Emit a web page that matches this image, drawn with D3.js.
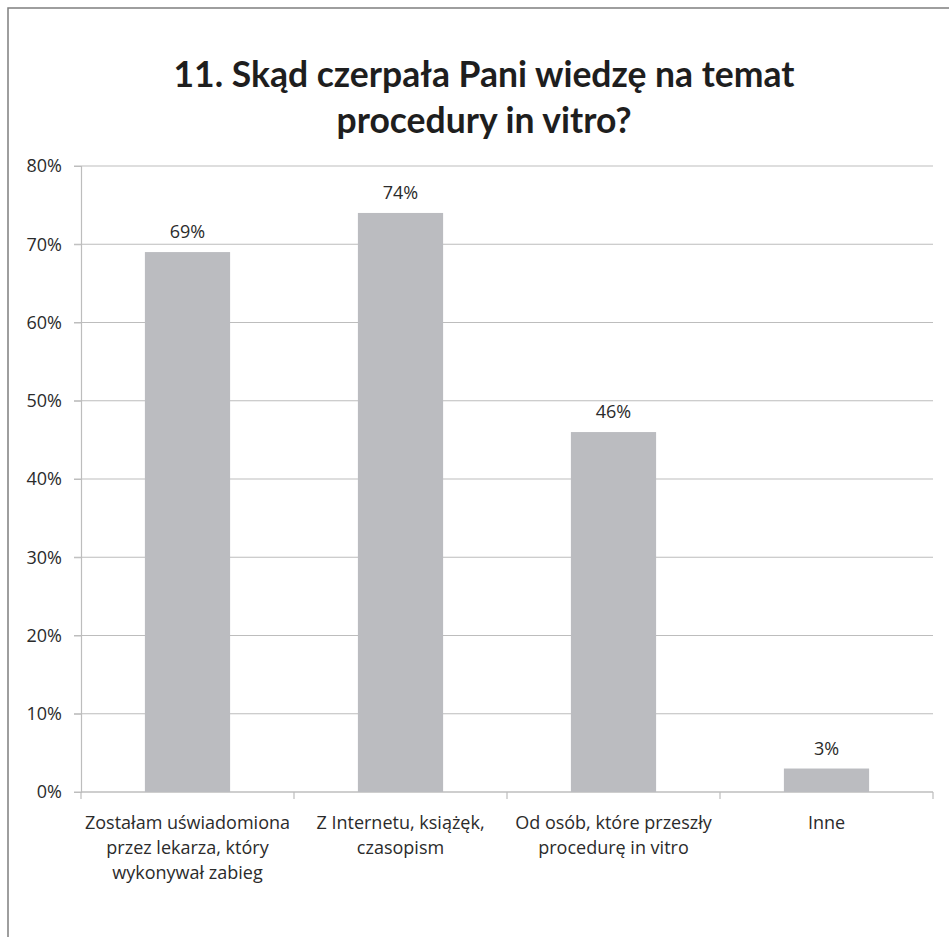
<!DOCTYPE html>
<html><head><meta charset="utf-8">
<script src="https://cdn.jsdelivr.net/npm/d3@7"></script>
<style>body{margin:0;background:#fff}svg{display:block}</style>
</head><body>
<script>
const categories = [
  ["Zostałam uświadomiona", "przez lekarza, który", "wykonywał zabieg"],
  ["Z Internetu,  książęk,", "czasopism"],
  ["Od osób, które przeszły", "procedurę in vitro"],
  ["Inne"]
];
const values = [0.69, 0.74, 0.46, 0.03];
const valueLabels = ["69%", "74%", "46%", "3%"];
const yTicks = [0, 0.1, 0.2, 0.3, 0.4, 0.5, 0.6, 0.7, 0.8];
const titleLines = ["11. Skąd czerpała Pani wiedzę na temat", "procedury in vitro?"];

const W = 949, H = 937;
const FONT = "Open Sans";
const FS = 18;
const svg = d3.select("body").append("svg").attr("width", W).attr("height", H);
svg.append("rect").attr("x", 8).attr("y", 8).attr("width", W + 10).attr("height", H + 10)
  .attr("fill", "#fff").attr("stroke", "#7f7f7f").attr("stroke-width", 1.5);

const pLeft = 81, pRight = 933, pTop = 166, pBottom = 792;
const x = d3.scaleBand().domain(d3.range(categories.length)).range([pLeft, pRight]).paddingInner(0.6).paddingOuter(0.3);
const y = d3.scaleLinear().domain([0, 0.8]).range([pBottom, pTop]);

// gridlines
svg.append("g").selectAll("line").data(yTicks).join("line")
  .attr("x1", pLeft - 7).attr("x2", pRight).attr("y1", d => y(d)).attr("y2", d => y(d))
  .attr("stroke", "#bdbdbd").attr("stroke-width", 1.2);

// y axis
const yAxis = svg.append("g").attr("transform", `translate(${pLeft},0)`)
  .call(d3.axisLeft(y).tickValues(yTicks).tickFormat(d3.format(".0%")).tickSize(7).tickPadding(12));
yAxis.select(".domain").attr("stroke", "#bdbdbd").attr("stroke-width", 1.2);
yAxis.selectAll(".tick line").attr("stroke", "#bdbdbd");
yAxis.selectAll("text").attr("font-family", FONT).attr("font-size", FS).attr("fill", "#2b2b2b");

// x axis baseline + boundary ticks
const step = x.step();
const bounds = d3.range(categories.length + 1).map(i => pLeft + i * step);
svg.append("line").attr("x1", pLeft).attr("x2", pRight).attr("y1", pBottom).attr("y2", pBottom)
  .attr("stroke", "#bdbdbd").attr("stroke-width", 1.2);
svg.append("g").selectAll("line").data(bounds).join("line")
  .attr("x1", d => d).attr("x2", d => d).attr("y1", pBottom).attr("y2", pBottom + 7)
  .attr("stroke", "#bdbdbd").attr("stroke-width", 1.2);

// bars
svg.append("g").selectAll("rect").data(values).join("rect")
  .attr("x", (d, i) => x(i)).attr("width", x.bandwidth())
  .attr("y", d => y(d)).attr("height", d => pBottom - y(d))
  .attr("fill", "#bbbcc0");

// value labels
svg.append("g").selectAll("text").data(values).join("text")
  .attr("x", (d, i) => x(i) + x.bandwidth() / 2).attr("y", d => y(d) - 14)
  .attr("text-anchor", "middle").attr("font-family", FONT).attr("font-size", FS)
  .attr("fill", "#2b2b2b").text((d, i) => valueLabels[i]);

// category labels
const cg = svg.append("g").selectAll("text").data(categories).join("text")
  .attr("text-anchor", "middle").attr("font-family", FONT).attr("font-size", FS)
  .attr("fill", "#2b2b2b");
cg.each(function(lines, i) {
  d3.select(this).selectAll("tspan").data(lines).join("tspan")
    .attr("x", x(i) + x.bandwidth() / 2).attr("y", (l, j) => 829 + j * 25).text(l => l);
});

// title
svg.append("g").selectAll("text").data(titleLines).join("text")
  .attr("x", 484).attr("y", (d, i) => 87 + i * 46).attr("text-anchor", "middle")
  .attr("font-family", "Lato").attr("font-weight", "bold").attr("font-size", 35.5)
  .attr("fill", "#1e1e1e").text(d => d);
</script>
</body></html>
